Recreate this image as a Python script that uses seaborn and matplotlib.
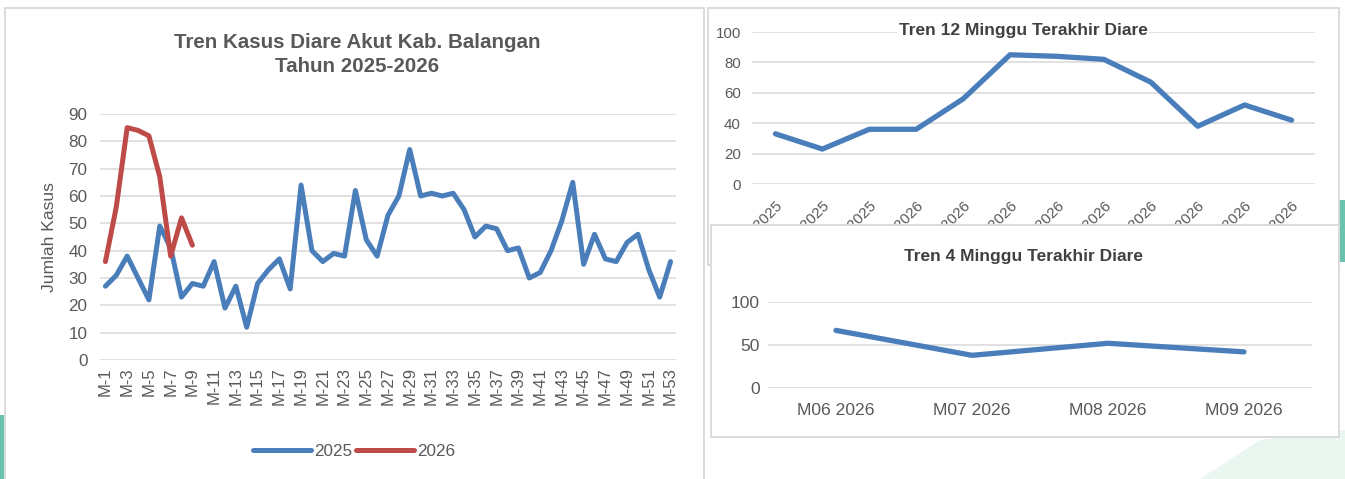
import numpy as np
import pandas as pd
import matplotlib
matplotlib.use("Agg")
import matplotlib.pyplot as plt
from matplotlib.patches import Rectangle, Polygon
import seaborn as sns

# ---------------- data ----------------
weeks = [f"M-{i}" for i in range(1, 54)]
cases_2025 = [27, 31, 38, 30, 22, 49, 41, 23, 28, 27,
              36, 19, 27, 12, 28, 33, 37, 26, 64, 40,
              36, 39, 38, 62, 44, 38, 53, 60, 77, 60,
              61, 60, 61, 55, 45, 49, 48, 40, 41, 30,
              32, 40, 51, 65, 35, 46, 37, 36, 43, 46,
              33, 23, 36]
cases_2026 = [36, 56, 85, 84, 82, 67, 38, 52, 42]
series_names = ["2025", "2026"]

last12_labels = ["M51 2025", "M52 2025", "M53 2025", "M01 2026", "M02 2026",
                 "M03 2026", "M04 2026", "M05 2026", "M06 2026", "M07 2026",
                 "M08 2026", "M09 2026"]
last12_values = [33, 23, 36, 36, 56, 85, 84, 82, 67, 38, 52, 42]

last4_labels = ["M06 2026", "M07 2026", "M08 2026", "M09 2026"]
last4_values = [67, 38, 52, 42]

# ---------------- style ----------------
sns.set_theme(style="white")
plt.rcParams["font.family"] = ["Liberation Sans", "DejaVu Sans"]
TXT = "#595959"
GRID = "#d9d9d9"
BLUE = "#4a7ebb"
RED = "#be4b48"

W, H = 1345, 479
fig = plt.figure(figsize=(W / 100, H / 100), dpi=100)
fig.patch.set_facecolor("white")


def fx(x):
    return x / W


def fy(y):
    return 1 - y / H


def box(x0, y0, x1, y1, z):
    r = Rectangle((fx(x0), fy(y1)), fx(x1) - fx(x0), fy(y0) - fy(y1),
                  transform=fig.transFigure, facecolor="white",
                  edgecolor=GRID, linewidth=1.3, zorder=z)
    fig.patches.append(r)


# decorative slide background bits
fig.patches.append(Rectangle((0, 0), fx(4), fy(415), transform=fig.transFigure,
                             facecolor="#6cc3ad", edgecolor="none", zorder=-3))
fig.patches.append(Polygon([(fx(1200), 0), (fx(1345), 0), (fx(1345), fy(430)),
                            (fx(1260), fy(440))], closed=True,
                           transform=fig.transFigure, facecolor="#eaf6f0",
                           edgecolor="none", zorder=-3))
fig.patches.append(Rectangle((fx(1338), fy(262)), fx(7), fy(200) - fy(262),
                             transform=fig.transFigure, facecolor="#6cc3ad",
                             edgecolor="none", zorder=-3))

# panels
box(5, 8, 704, 490, -1)
box(708, 8, 1339, 265, -1)
box(711, 225, 1339, 437, 1)


def style_ax(ax, fs):
    ax.set_facecolor("none")
    for s in ax.spines.values():
        s.set_visible(False)
    ax.grid(axis="y", color=GRID, linewidth=1.1)
    ax.grid(axis="x", visible=False)
    ax.tick_params(length=0, colors=TXT, labelsize=fs)
    ax.set_xlabel("")
    ax.set_ylabel("")


# ---------------- left chart ----------------
ax1 = fig.add_axes([fx(100), fy(360), fx(676) - fx(100), fy(114) - fy(360)])
ax1.set_zorder(0)
df = pd.DataFrame({
    "pos": list(range(len(cases_2025))) + list(range(len(cases_2026))),
    "Kasus": cases_2025 + cases_2026,
    "Tahun": [series_names[0]] * len(cases_2025) + [series_names[1]] * len(cases_2026),
})
sns.lineplot(data=df, x="pos", y="Kasus", hue="Tahun",
             palette={"2025": BLUE, "2026": RED}, linewidth=3.6,
             ax=ax1, legend=False, solid_capstyle="round",
             solid_joinstyle="round")
ax1.set_xlim(-0.5, len(weeks) - 0.5)
ax1.set_ylim(0, 90)
ax1.set_yticks(range(0, 91, 10))
ax1.set_xticks(range(0, len(weeks), 2))
ax1.set_xticklabels(weeks[::2], rotation=90)
style_ax(ax1, 12.3)
ax1.tick_params(axis="x", labelsize=12)
ax1.tick_params(axis="y", pad=9)
ax1.tick_params(axis="x", pad=5)
ax1.set_axisbelow(True)

fig.text(fx(357), fy(54.5), "Tren Kasus Diare Akut Kab. Balangan\nTahun 2025-2026",
         ha="center", va="center", fontsize=14.8, fontweight="bold",
         color=TXT, linespacing=1.38)
fig.text(fx(50), fy(237), "Jumlah Kasus", rotation=90, ha="center",
         va="center", fontsize=12.6, color=TXT)

handles = [plt.Line2D([], [], color=BLUE, lw=3.6, solid_capstyle="round"),
           plt.Line2D([], [], color=RED, lw=3.6, solid_capstyle="round")]
fig.legend(handles, series_names, loc="center", bbox_to_anchor=(fx(354), fy(451)),
           ncol=2, frameon=False, fontsize=12.3, handlelength=3.4,
           handletextpad=0.2, columnspacing=0.2, labelcolor=TXT)

# ---------------- top right chart ----------------
ax2 = fig.add_axes([fx(752), fy(184), fx(1315) - fx(752), fy(32) - fy(184)])
ax2.set_zorder(0)
sns.lineplot(x=list(range(len(last12_values))), y=last12_values, ax=ax2,
             color=BLUE, linewidth=3.8, solid_capstyle="round",
             solid_joinstyle="round")
ax2.set_xlim(-0.5, len(last12_values) - 0.5)
ax2.set_ylim(0, 100)
ax2.set_yticks(range(0, 101, 20))
ax2.set_xticks(range(len(last12_labels)))
ax2.set_xticklabels(last12_labels, rotation=45, ha="right",
                    rotation_mode="anchor")
style_ax(ax2, 10.8)
ax2.tick_params(axis="x", labelsize=11)
ax2.tick_params(axis="y", pad=8)
ax2.tick_params(axis="x", pad=11)
fig.text(fx(1023), fy(31), "Tren 12 Minggu Terakhir Diare", ha="center",
         va="center", fontsize=12.5, fontweight="bold", color="#404040",
         bbox=dict(facecolor="white", edgecolor="none", pad=1.0), zorder=0.5)

# ---------------- bottom right chart ----------------
ax3 = fig.add_axes([fx(768), fy(388), fx(1312) - fx(768), fy(302) - fy(388)])
ax3.set_zorder(2)
sns.lineplot(x=list(range(len(last4_values))), y=last4_values, ax=ax3,
             color=BLUE, linewidth=3.8, solid_capstyle="round",
             solid_joinstyle="round")
ax3.set_xlim(-0.5, len(last4_values) - 0.5)
ax3.set_ylim(0, 100)
ax3.set_yticks([0, 50, 100])
ax3.set_xticks(range(len(last4_labels)))
ax3.set_xticklabels(last4_labels)
style_ax(ax3, 12.6)
ax3.tick_params(axis="y", pad=6)
ax3.tick_params(axis="x", pad=11)
t = fig.text(fx(1023), fy(256), "Tren 4 Minggu Terakhir Diare", ha="center",
             va="center", fontsize=12.5, fontweight="bold", color="#404040")
t.set_zorder(3)

fig.savefig("out.png", dpi=100, facecolor="white")
